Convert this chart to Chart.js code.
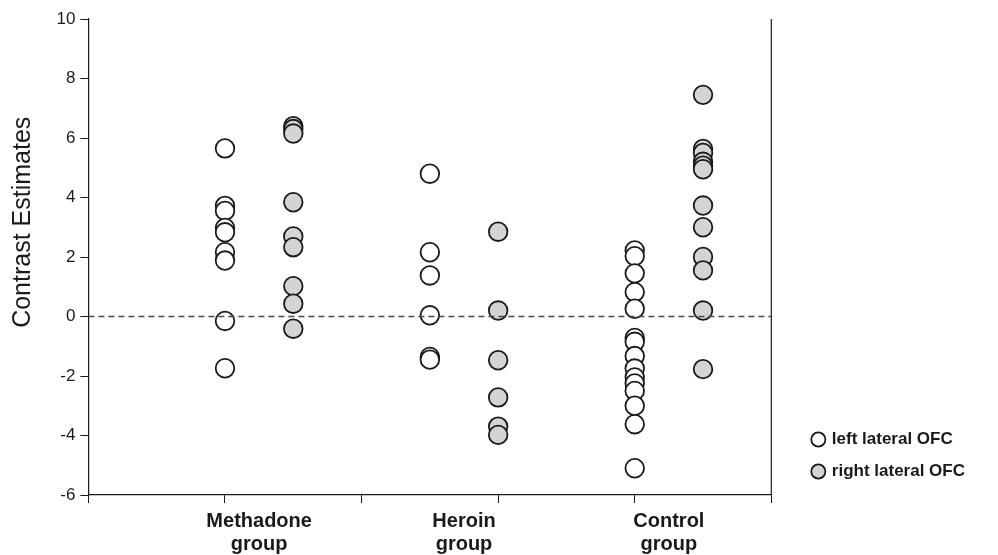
<!DOCTYPE html>
<html>
<head>
<meta charset="utf-8">
<script src="https://cdn.jsdelivr.net/npm/chart.js@4.4.1/dist/chart.umd.min.js"></script>
<style>
  html, body { margin: 0; padding: 0; background: #fff; }
  #wrap { width: 998px; height: 555px; }
</style>
</head>
<body>
<div id="wrap"><canvas id="c" width="998" height="555"></canvas></div>
<script>
// Group labels along the x axis and where each group's columns sit
const groupLabels = [['Methadone', 'group'], ['Heroin', 'group'], ['Control', 'group']];
const labelX = [1.25, 2.75, 4.25];
const leftX = [1, 2.5, 4];
const rightX = [1.5, 3, 4.5];

// Contrast estimates per subject, left lateral OFC
const methadoneLeft = [5.65, 3.72, 3.55, 2.98, 2.83, 2.16, 1.88, -0.15, -1.74];
const heroinLeft = [4.8, 2.16, 1.38, 0.04, -1.36, -1.45];
const controlLeft = [2.22, 2.03, 1.45, 0.82, 0.26, -0.72, -0.85, -1.33, -1.75, -2.05, -2.25, -2.5, -3.0, -3.62, -5.1];

// Contrast estimates per subject, right lateral OFC
const methadoneRight = [6.4, 6.3, 6.15, 3.84, 2.69, 2.33, 1.02, 0.43, -0.41];
const heroinRight = [2.85, 0.2, -1.47, -2.72, -3.7, -3.98];
const controlRight = [7.45, 5.63, 5.5, 5.2, 5.07, 4.95, 3.73, 3.0, 2.0, 1.55, 0.2, -1.77];

// y axis ticks and range, x range
const yTicks = [-6, -4, -2, 0, 2, 4, 6, 8, 10];
const yRange = [-6, 10];
const xRange = [0, 5];

function toPoints(groups, xs) {
  const pts = [];
  groups.forEach((vals, g) => vals.forEach(v => pts.push({ x: xs[g], y: v })));
  return pts;
}

const leftPoints = toPoints([methadoneLeft, heroinLeft, controlLeft], leftX);
const rightPoints = toPoints([methadoneRight, heroinRight, controlRight], rightX);

const ink = '#1a1a1a';
const font = 'Arial, "Liberation Sans", Helvetica, sans-serif';

new Chart(document.getElementById('c'), {
  type: 'scatter',
  data: {
    datasets: [
      {
        // dashed reference line at zero
        type: 'line',
        label: 'zero',
        data: [{ x: xRange[0], y: 0 }, { x: xRange[1], y: 0 }],
        borderColor: '#4a4a4a',
        borderWidth: 1.5,
        borderDash: [6, 4],
        pointRadius: 0,
        fill: false,
        order: 0
      },
      {
        // right-hand frame line of the plot
        type: 'line',
        label: 'frame',
        data: [{ x: xRange[1], y: yRange[0] }, { x: xRange[1], y: yRange[1] }],
        borderColor: ink,
        borderWidth: 1.2,
        pointRadius: 0,
        fill: false,
        clip: false,
        order: 0
      },
      {
        label: 'left lateral OFC',
        data: leftPoints,
        backgroundColor: '#ffffff',
        borderColor: ink,
        borderWidth: 1.8,
        pointRadius: 9.3,
        pointHoverRadius: 9.3,
        order: 1
      },
      {
        label: 'right lateral OFC',
        data: rightPoints,
        backgroundColor: '#d4d4d4',
        borderColor: ink,
        borderWidth: 1.8,
        pointRadius: 9.3,
        pointHoverRadius: 9.3,
        order: 2
      }
    ]
  },
  options: {
    responsive: false,
    animation: false,
    devicePixelRatio: 1,
    layout: { padding: { top: 19, left: 0, right: 23, bottom: 0 } },
    plugins: {
      tooltip: { enabled: false },
      legend: {
        position: 'right',
        align: 'end',
        fullSize: false,
        labels: {
          filter: item => item.text === 'left lateral OFC' || item.text === 'right lateral OFC',
          usePointStyle: true,
          pointStyle: 'circle',
          boxWidth: 10,
          boxHeight: 10,
          padding: 15,
          color: ink,
          font: { family: font, size: 17, weight: 'bold' }
        }
      }
    },
    scales: {
      x: {
        type: 'linear',
        position: 'bottom',
        min: xRange[0],
        max: xRange[1],
        ticks: { stepSize: 1, display: false },
        grid: { drawOnChartArea: false, drawTicks: true, tickLength: 8, color: ink, tickColor: ink },
        border: { display: true, color: ink, width: 1.2 }
      },
      groups: {
        type: 'linear',
        position: 'bottom',
        min: xRange[0],
        max: xRange[1],
        afterBuildTicks: axis => { axis.ticks = labelX.map(v => ({ value: v })); },
        afterFit: axis => { axis.height = 52; },
        ticks: {
          autoSkip: false,
          maxRotation: 0,
          padding: 6.5,
          color: ink,
          font: { family: font, size: 20, weight: 'bold', lineHeight: 1.15 },
          callback: (value, index) => groupLabels[index]
        },
        grid: { display: false, drawTicks: false },
        border: { display: false }
      },
      y: {
        type: 'linear',
        min: yRange[0],
        max: yRange[1],
        afterBuildTicks: axis => { axis.ticks = yTicks.map(v => ({ value: v })); },
        ticks: {
          padding: 5,
          color: ink,
          font: { family: font, size: 17 }
        },
        title: {
          display: true,
          text: '          Contrast Estimates',
          color: ink,
          font: { family: font, size: 25 },
          padding: { top: 8.5, bottom: 13 }
        },
        grid: { drawOnChartArea: false, drawTicks: true, tickLength: 8, color: ink, tickColor: ink },
        border: { display: true, color: ink, width: 1.2 }
      },
      gap: {
        // empty strip between the plot and the legend
        type: 'linear',
        position: 'right',
        display: false,
        afterFit: axis => { axis.width = 27; }
      }
    }
  }
});
</script>
</body>
</html>
